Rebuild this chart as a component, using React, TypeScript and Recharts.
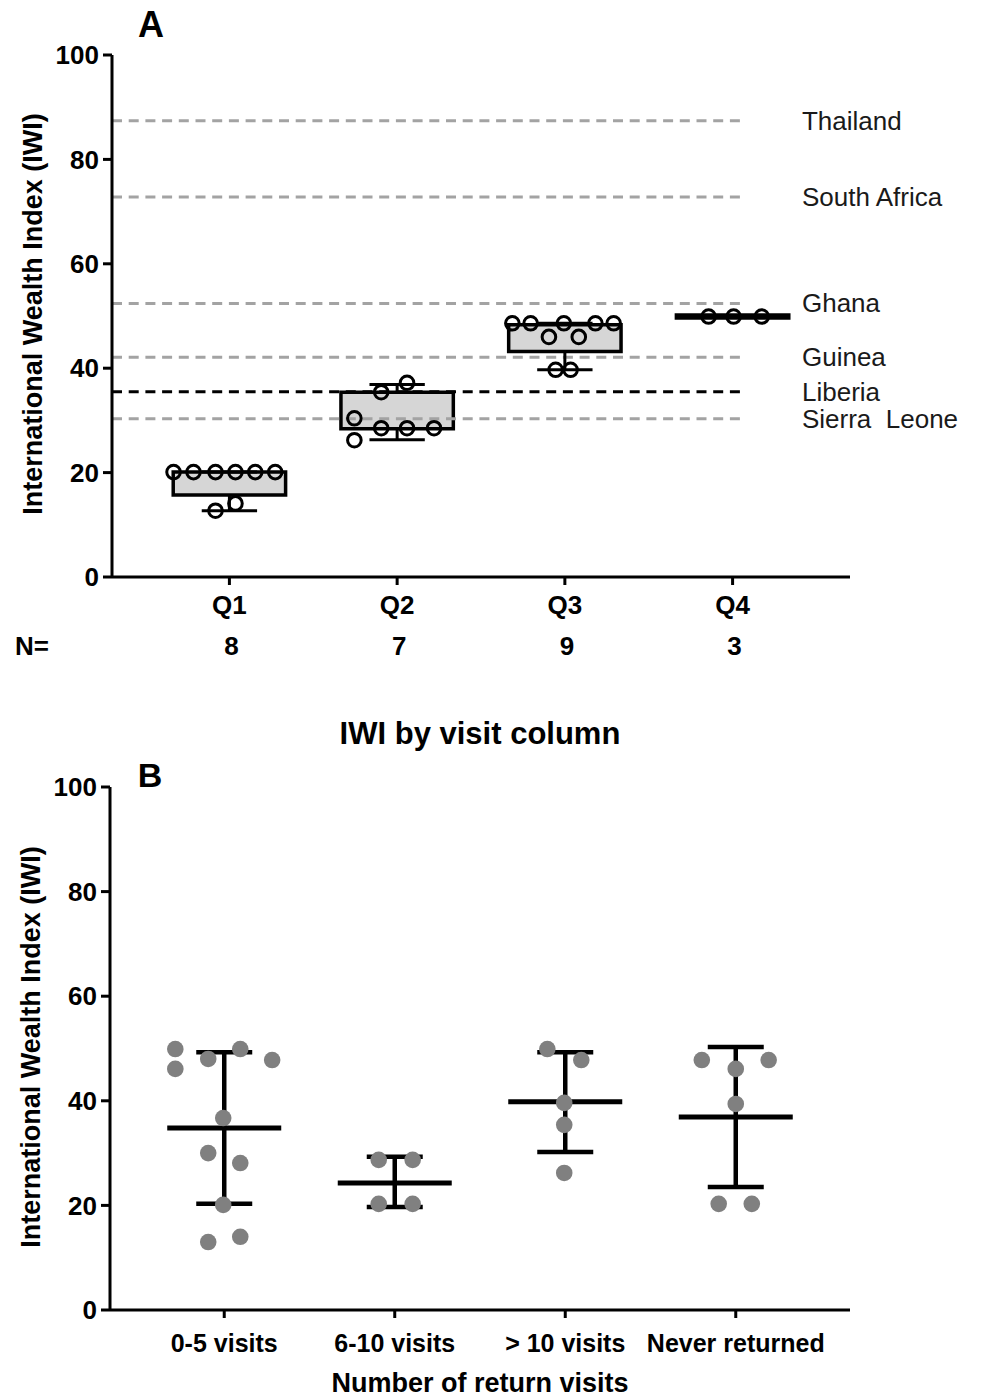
import React from "react";
import { ComposedChart, ErrorBar, ReferenceArea, ReferenceLine, Scatter, XAxis, YAxis } from "recharts";

const FONT = "'Liberation Sans', Arial, Helvetica, sans-serif";

// ---- panel A: IWI by household wealth quartile
const quartiles = ["Q1", "Q2", "Q3", "Q4"];
const quartileN = [8, 7, 9, 3];
const boxLow = [15.7, 28.4, 43.2, 49.6];
const boxHigh = [20.1, 35.4, 48.3, 50.2];
const whiskerLow = [12.7, 26.3, 39.7, 49.9];
const whiskerHigh = [20.1, 36.9, 48.6, 49.9];

const quartilePointX = [
  0.667, 0.786, 0.917, 1.036, 1.154, 1.273, 0.917, 1.036,
  1.905, 2.059, 1.745, 1.745, 1.905, 2.059, 2.22,
  2.687, 2.796, 2.905, 2.994, 3.083, 3.182, 3.291, 2.945, 3.034,
  3.857, 4.006, 4.174,
];
const quartilePointY = [
  20.1, 20.1, 20.1, 20.1, 20.1, 20.1, 12.7, 14.1,
  35.4, 37.2, 30.4, 26.2, 28.5, 28.5, 28.5,
  48.6, 48.6, 46.0, 48.6, 46.0, 48.6, 48.6, 39.7, 39.7,
  49.9, 49.9, 49.9,
];

const countries = ["Thailand", "South Africa", "Ghana", "Guinea", "Liberia", "Sierra  Leone"];
const countryIWI = [87.4, 72.8, 52.4, 42.1, 35.5, 30.3];
const highlightCountry = "Liberia";

// ---- panel B: IWI by number of return visits
const visitGroups = ["0-5 visits", "6-10 visits", "> 10 visits", "Never returned"];
const visitMean = [34.8, 24.3, 39.8, 36.9];
const visitSdLow = [20.3, 19.7, 30.2, 23.5];
const visitSdHigh = [49.3, 29.3, 49.3, 50.3];

const visitPointX = [
  0.713, 0.713, 0.906, 1.094, 1.281, 0.994, 0.906, 1.094, 0.994, 0.906, 1.094,
  1.906, 2.105, 1.906, 2.105,
  2.895, 3.094, 2.994, 2.994, 2.994,
  3.801, 4.193, 4.0, 4.0, 3.9, 4.094,
];
const visitPointY = [
  49.9, 46.1, 48.0, 49.9, 47.8, 36.7, 30.0, 28.1, 20.1, 13.0, 14.0,
  28.7, 28.7, 20.3, 20.3,
  49.9, 47.8, 39.6, 35.4, 26.2,
  47.8, 47.8, 46.1, 39.4, 20.3, 20.3,
];

const yTicks = [0, 20, 40, 60, 80, 100];

const quartilePoints = quartilePointX.map((x, i) => ({ x, y: quartilePointY[i] }));
const visitPoints = visitPointX.map((x, i) => ({ x, y: visitPointY[i] }));
const visitMeans = visitMean.map((m, i) => ({
  x: i + 1,
  y: m,
  err: [m - visitSdLow[i], visitSdHigh[i] - m],
}));

const BOX_HALF = 0.335;
const CAP_HALF = 0.165;
const LINE_END = 4.05;

const tickStyle = { fill: "#000", fontSize: 26, fontWeight: "bold", fontFamily: FONT };
const axisLine = { stroke: "#000", strokeWidth: 3 };

function QuartileTick(props: any) {
  const { x, y, payload } = props;
  const i = payload.value - 1;
  return (
    <g fontFamily={FONT} fontWeight="bold" fontSize={26} fill="#000" textAnchor="middle">
      <text x={x} y={y + 18} dominantBaseline="central">{quartiles[i]}</text>
      <text x={x + 2} y={y + 59} dominantBaseline="central">{quartileN[i]}</text>
    </g>
  );
}

function VisitTick(props: any) {
  const { x, y, payload } = props;
  return (
    <text x={x} y={y + 23} dominantBaseline="central" textAnchor="middle" fontFamily={FONT} fontWeight="bold" fontSize={25} fill="#000">
      {visitGroups[payload.value - 1]}
    </text>
  );
}

function CountryLabel(props: any) {
  const vb = props.viewBox || {};
  return (
    <text
      x={vb.x + vb.width + 61}
      y={vb.y}
      dominantBaseline="central"
      fontFamily={FONT}
      fontSize={26}
      fill="#1a1a1a"
      style={{ whiteSpace: "pre" }}
    >
      {props.name}
    </text>
  );
}

function OpenCircle(props: any) {
  return <circle cx={props.cx} cy={props.cy} r={6.8} fill="none" stroke="#000" strokeWidth={3} />;
}

function GreyDot(props: any) {
  return <circle cx={props.cx} cy={props.cy} r={8.3} fill="#808080" />;
}

function MeanBar(props: any) {
  return <line x1={props.cx - 57} x2={props.cx + 57} y1={props.cy} y2={props.cy} stroke="#000" strokeWidth={5} />;
}

function PanelA() {
  return (
    <ComposedChart width={987} height={680} margin={{ top: 55, right: 137, bottom: 43, left: 0 }}>
      <XAxis
        type="number"
        dataKey="x"
        domain={[0.3, 4.7]}
        ticks={[1, 2, 3, 4]}
        allowDataOverflow
        height={60}
        tickSize={8}
        axisLine={axisLine}
        tickLine={axisLine}
        tick={<QuartileTick />}
      />
      <YAxis
        type="number"
        dataKey="y"
        domain={[0, 100]}
        ticks={yTicks}
        width={112}
        tickSize={9}
        tickMargin={4}
        axisLine={axisLine}
        tickLine={axisLine}
        tick={tickStyle}
      />
      {quartiles.map((q, i) => (
        <ReferenceArea
          key={"box" + q}
          x1={i + 1 - BOX_HALF}
          x2={i + 1 + BOX_HALF}
          y1={boxLow[i]}
          y2={boxHigh[i]}
          fill="#d6d6d6"
          fillOpacity={1}
          stroke="#000"
          strokeWidth={3.5}
        />
      ))}
      {countries.map((c, i) => (
        <ReferenceLine
          key={"c" + c}
          segment={[
            { x: 0.3, y: countryIWI[i] },
            { x: LINE_END, y: countryIWI[i] },
          ]}
          stroke={c === highlightCountry ? "#000" : "#a3a3a3"}
          strokeWidth={3}
          strokeDasharray="10 6.7"
          label={<CountryLabel name={c} />}
        />
      ))}
      {quartiles.map((q, i) => [
        <ReferenceLine
          key={"wl" + q}
          segment={[
            { x: i + 1, y: boxLow[i] },
            { x: i + 1, y: whiskerLow[i] },
          ]}
          stroke="#000"
          strokeWidth={3}
        />,
        <ReferenceLine
          key={"wlc" + q}
          segment={[
            { x: i + 1 - CAP_HALF, y: whiskerLow[i] },
            { x: i + 1 + CAP_HALF, y: whiskerLow[i] },
          ]}
          stroke="#000"
          strokeWidth={3}
        />,
        <ReferenceLine
          key={"wh" + q}
          segment={[
            { x: i + 1, y: boxHigh[i] },
            { x: i + 1, y: whiskerHigh[i] },
          ]}
          stroke="#000"
          strokeWidth={3}
        />,
        <ReferenceLine
          key={"whc" + q}
          segment={[
            { x: i + 1 - CAP_HALF, y: whiskerHigh[i] },
            { x: i + 1 + CAP_HALF, y: whiskerHigh[i] },
          ]}
          stroke="#000"
          strokeWidth={3}
        />,
      ])}
      <Scatter data={quartilePoints} shape={<OpenCircle />} isAnimationActive={false} />
    </ComposedChart>
  );
}

function PanelB() {
  return (
    <ComposedChart width={987} height={719} margin={{ top: 107, right: 137, bottom: 0, left: 0 }}>
      <XAxis
        type="number"
        dataKey="x"
        domain={[0.33, 4.67]}
        ticks={[1, 2, 3, 4]}
        allowDataOverflow
        height={89}
        tickSize={8}
        axisLine={axisLine}
        tickLine={axisLine}
        tick={<VisitTick />}
      />
      <YAxis
        type="number"
        dataKey="y"
        domain={[0, 100]}
        ticks={yTicks}
        width={110}
        tickSize={9}
        tickMargin={4}
        axisLine={axisLine}
        tickLine={axisLine}
        tick={tickStyle}
      />
      <Scatter data={visitMeans} shape={<MeanBar />} isAnimationActive={false}>
        <ErrorBar dataKey="err" direction="y" width={28} stroke="#000" strokeWidth={4.5} isAnimationActive={false} />
      </Scatter>
      <Scatter data={visitPoints} shape={<GreyDot />} isAnimationActive={false} />
    </ComposedChart>
  );
}

export default function App() {
  return (
    <div style={{ position: "absolute", left: 0, top: 0, width: 987, height: 1399, background: "#fff" }}>
      <PanelA />
      <PanelB />
      <svg
        width={987}
        height={1399}
        style={{ position: "absolute", left: 0, top: 0, pointerEvents: "none" }}
        fontFamily={FONT}
        fontWeight="bold"
        fill="#000"
      >
        <text x={151} y={24} fontSize={36} textAnchor="middle" dominantBaseline="central">A</text>
        <text x={15} y={646} fontSize={26} dominantBaseline="central">N=</text>
        <text x={33} y={314} fontSize={27} textAnchor="middle" dominantBaseline="central" transform="rotate(-90 33 314)">
          International Wealth Index (IWI)
        </text>
        <text x={480} y={733} fontSize={31} textAnchor="middle" dominantBaseline="central">IWI by visit column</text>
        <text x={150} y={775} fontSize={34} textAnchor="middle" dominantBaseline="central">B</text>
        <text x={31} y={1047} fontSize={27} textAnchor="middle" dominantBaseline="central" transform="rotate(-90 31 1047)">
          International Wealth Index (IWI)
        </text>
        <text x={480} y={1383} fontSize={27} textAnchor="middle" dominantBaseline="central">Number of return visits</text>
      </svg>
    </div>
  );
}
